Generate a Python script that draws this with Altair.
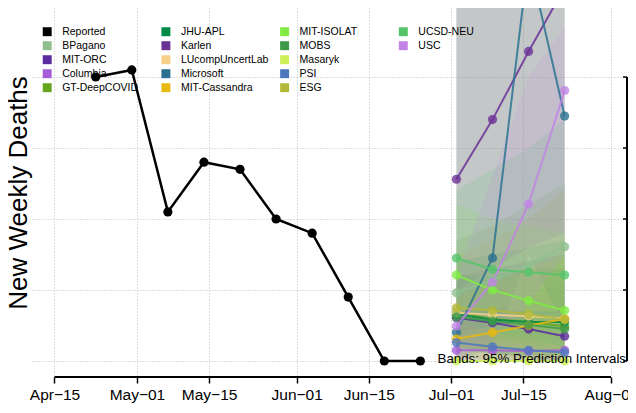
import altair as alt
import pandas as pd

# ---------------- data ----------------
reported_dates = ["2020-04-23", "2020-04-30", "2020-05-07", "2020-05-14", "2020-05-21",
                  "2020-05-28", "2020-06-04", "2020-06-11", "2020-06-18", "2020-06-25"]
reported_deaths = [40, 41, 21, 28, 27, 20, 18, 9, 0, 0]

forecast_dates = ["2020-07-02", "2020-07-09", "2020-07-16", "2020-07-23"]

models = ["BPagano", "MIT-ORC", "Columbia", "GT-DeepCOVID", "JHU-APL", "Karlen",
          "LUcompUncertLab", "Microsoft", "MIT-Cassandra", "MIT-ISOLAT", "MOBS",
          "Masaryk", "PSI", "ESG", "UCSD-NEU", "USC"]
model_colors = ["#8fbf8f", "#5b2ba0", "#a65ed8", "#66a61e", "#008a48", "#6b3196",
                "#f7d08a", "#2c7290", "#e8b90e", "#80ec42", "#3d9a48",
                "#ccf05a", "#4d78be", "#b2b838", "#55c46a", "#c184e4"]

forecast_point = {
    "BPagano": [9.6, 11.4, 13.5, 16.1],
    "MIT-ORC": [6.1, 5.4, 4.5, 3.5],
    "Columbia": [1.5, 1.5, 1.4, 1.5],
    "GT-DeepCOVID": [6.9, 5.9, 5.5, 4.9],
    "JHU-APL": [6.6, 5.8, 5.5, 5.5],
    "Karlen": [25.6, 34.0, 43.6, 52.6],
    "LUcompUncertLab": [6.8, 6.5, 6.3, 6.0],
    "Microsoft": [4.0, 14.5, 56.7, 34.5],
    "MIT-Cassandra": [3.1, 4.0, 5.0, 5.9],
    "MIT-ISOLAT": [12.1, 10.0, 8.5, 7.1],
    "MOBS": [6.2, 5.6, 5.1, 4.5],
    "Masaryk": [0.0, 0.0, 0.0, 0.0],
    "PSI": [2.6, 2.0, 1.5, 1.2],
    "ESG": [7.5, 7.1, 6.6, 5.8],
    "UCSD-NEU": [14.5, 12.9, 12.5, 12.1],
    "USC": [4.9, 11.1, 22.1, 38.1],
}
forecast_lower = {
    "BPagano": [3, 3, 3, 3],
    "MIT-ORC": [2, 1, 0.5, 0],
    "Columbia": [0, 0, 0, 0],
    "GT-DeepCOVID": [1, 0, 0, 0],
    "JHU-APL": [1.5, 1, 0.5, 0],
    "Karlen": [10, 13, 16, 18],
    "LUcompUncertLab": [0, 0, 0, 0],
    "Microsoft": [0, 2, 15, 5],
    "MIT-Cassandra": [0, 0, 0, 0],
    "MIT-ISOLAT": [4, 3, 2, 1],
    "MOBS": [2, 1, 1, 0.5],
    "Masaryk": [0, 0, 0, 0],
    "PSI": [0, 0, 0, 0],
    "ESG": [2, 1.5, 1, 0.5],
    "UCSD-NEU": [6, 4, 3, 2],
    "USC": [0, 3, 8, 15],
}
forecast_upper = {
    "BPagano": [55, 60, 68, 75],
    "MIT-ORC": [12, 13, 14, 15],
    "Columbia": [5, 7, 9, 11],
    "GT-DeepCOVID": [17, 19, 22, 25],
    "JHU-APL": [14, 15, 16, 17],
    "Karlen": [52, 66, 85, 110],
    "LUcompUncertLab": [55, 60, 65, 70],
    "Microsoft": [60, 90, 200, 150],
    "MIT-Cassandra": [9, 11, 13, 15],
    "MIT-ISOLAT": [22, 20, 19, 18],
    "MOBS": [12, 12, 13, 13],
    "Masaryk": [4, 5, 6, 7],
    "PSI": [7, 7, 7, 7],
    "ESG": [15, 17, 20, 24],
    "UCSD-NEU": [24, 27, 30, 34],
    "USC": [12, 26, 40, 47],
}

tick_dates = ["2020-04-15", "2020-05-01", "2020-05-15", "2020-06-01",
              "2020-06-15", "2020-07-01", "2020-07-15", "2020-08-01"]
y_ticks = [0, 10, 20, 30, 40]
title_text = "Oklahoma"
y_title = "New Weekly Deaths"
band_note = "Bands: 95% Prediction Intervals"

# ---------------- tables ----------------
legend_names = ["Reported"] + models
legend_colors = ["#000000"] + model_colors

rep_df = pd.DataFrame({"date": reported_dates, "deaths": reported_deaths})
rows = []
for m in models:
    for i, d in enumerate(forecast_dates):
        rows.append({"model": m, "date": d, "point": forecast_point[m][i],
                     "lower": forecast_lower[m][i], "upper": forecast_upper[m][i]})
fc_df = pd.DataFrame(rows)
leg_df = pd.DataFrame({"model": legend_names,
                       "col": [i // 5 for i in range(len(legend_names))],
                       "row": [i % 5 for i in range(len(legend_names))]})
axis_df = pd.DataFrame({"start": [tick_dates[0]], "end": [tick_dates[-1]]})
ytick_df = pd.DataFrame({"v": y_ticks})


def ms(ts):
    return int(ts.value // 10**6)


base = pd.Timestamp("2020-04-15", tz="UTC")
x_domain = [ms(base + pd.Timedelta(days=-4.366)), ms(base + pd.Timedelta(days=111.10))]
tick_ms = [ms(pd.Timestamp(d, tz="UTC")) for d in tick_dates]

W, H = 595, 369
FONT = "Liberation Sans"

x_scale = alt.Scale(type="utc", domain=x_domain, nice=False)
y_scale = alt.Scale(domain=[-2.254, 49.72], nice=False, zero=False)
color_scale = alt.Scale(domain=legend_names, range=legend_colors)

x_axis = alt.Axis(values=tick_ms, title=None,
                  labelExpr="utcFormat(datum.value, '%b') + '\u2212' + utcFormat(datum.value, '%d')")
y_axis = alt.Axis(values=y_ticks, title=y_title)


def X(field):
    return alt.X(field, scale=x_scale, axis=x_axis)


def Y(field):
    return alt.Y(field, scale=y_scale, axis=y_axis)


color_enc = alt.Color("model:N", scale=color_scale, legend=None)

bands = alt.Chart(fc_df).mark_area(fillOpacity=0.15, clip=True).encode(
    x=X("date:T"), y=Y("lower:Q"), y2="upper:Q", color=color_enc,
)
fc_lines = alt.Chart(fc_df).mark_line(strokeWidth=2, opacity=0.85, clip=True).encode(
    x=X("date:T"), y=Y("point:Q"), color=color_enc,
)
fc_points = alt.Chart(fc_df).mark_circle(size=85, opacity=0.8, clip=True).encode(
    x=X("date:T"), y=Y("point:Q"), color=color_enc,
)
rep_line = alt.Chart(rep_df).mark_line(color="black", strokeWidth=2.5).encode(
    x=X("date:T"), y=Y("deaths:Q"),
)
rep_points = alt.Chart(rep_df).mark_circle(color="black", size=85, opacity=1).encode(
    x=X("date:T"), y=Y("deaths:Q"),
)
x_line = alt.Chart(axis_df).mark_rule(color="black", strokeWidth=2).encode(
    x=X("start:T"), x2="end:T", y=alt.value(H),
)
right_line = alt.Chart(ytick_df).mark_rule(color="black", strokeWidth=2).encode(
    x=alt.value(W), y=Y("min(v):Q"), y2="max(v):Q",
)
right_ticks = alt.Chart(ytick_df).mark_rule(color="black", strokeWidth=1.5).encode(
    x=alt.value(W - 4), x2=alt.value(W), y=Y("v:Q"),
)
note = alt.Chart(pd.DataFrame({"t": [band_note]})).mark_text(
    align="right", baseline="middle", fontSize=13.3, font=FONT, color="black"
).encode(x=alt.value(W - 1), y=alt.value(351), text="t:N")

# legend (column-major, 5 rows), placed in pixels through an identity scale
leg_base = alt.Chart(leg_df).transform_calculate(
    lx="15.2 + 118.7 * datum.col", ly="23.7 + 14 * datum.row"
)
lx = alt.X("lx:Q", scale=None)
ly = alt.Y("ly:Q", scale=None)
leg_sq = leg_base.mark_square(size=80, opacity=1).encode(x=lx, y=ly, color=color_enc)
leg_tx = leg_base.mark_text(align="left", baseline="middle", dx=15,
                            fontSize=10.5, font=FONT, color="black").encode(
    x=lx, y=ly, text="model:N")

chart = alt.layer(
    bands, fc_lines, fc_points, rep_line, rep_points,
    x_line, right_line, right_ticks, note, leg_sq, leg_tx
).properties(
    width=W, height=H,
    title=alt.TitleParams(title_text, anchor="start", frame="group", fontSize=31,
                          fontWeight="bold", font=FONT, color="black", offset=-7),
    autosize=alt.AutoSizeParams(type="none"),
    padding={"left": 24, "top": 0, "right": 1, "bottom": 28},
).configure(
    font=FONT, background="white"
).configure_view(
    stroke=None
).configure_axisX(
    domain=False, grid=True, gridDash=[1, 2], gridColor="#bdbdbd", gridWidth=1,
    tickSize=6, tickWidth=1.5, tickColor="black",
    labelFontSize=15.5, labelColor="black", labelFont=FONT,
    labelPadding=4, labelFlush=False, labelOverlap=False,
).configure_axisY(
    labels=False, ticks=False, domain=False, grid=True,
    gridDash=[1, 2], gridColor="#bdbdbd", gridWidth=1,
    titleFontSize=26, titleFontWeight="normal", titleColor="black",
    titleFont=FONT, titlePadding=1,
)

chart.save("out.html", embed_options={"renderer": "svg", "actions": False})
